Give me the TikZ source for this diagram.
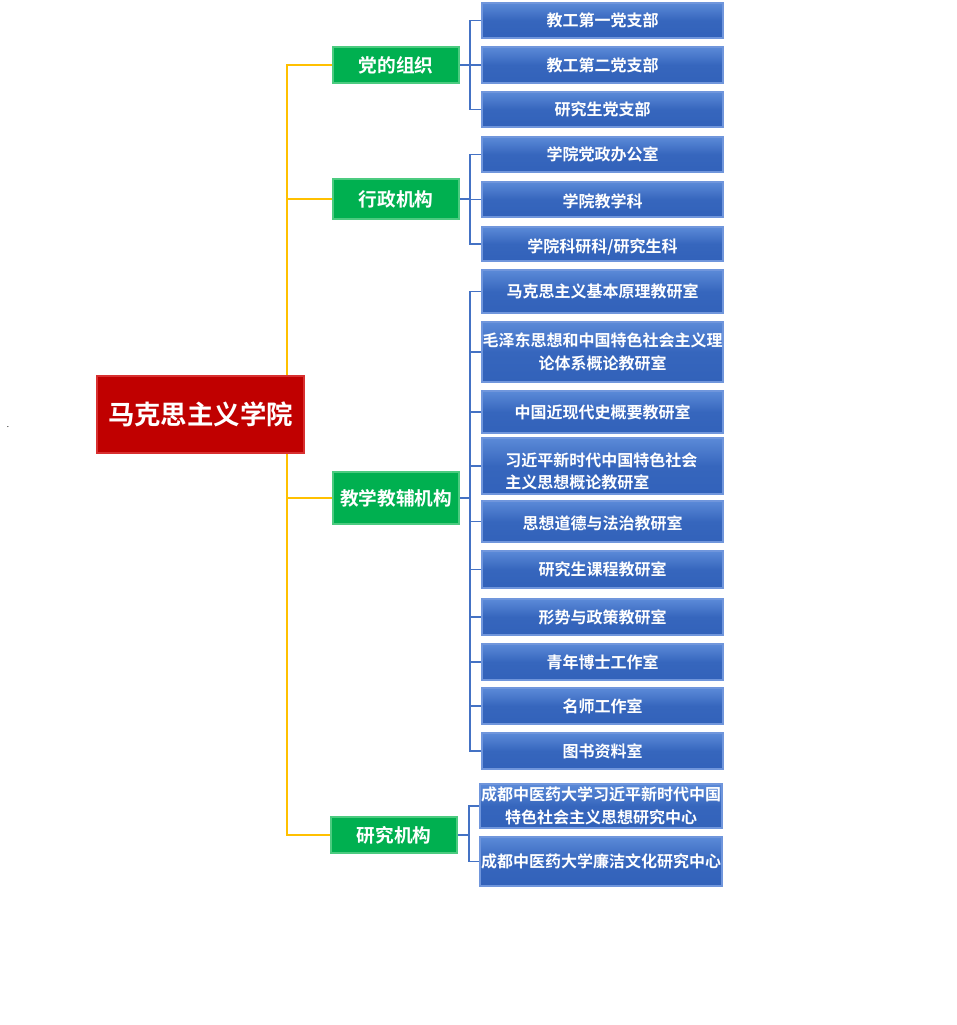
\documentclass[tikz,border=0pt]{standalone}
\usepackage{fontspec}
\setmainfont{Noto Sans CJK SC}[BoldFont=* Bold]
\usetikzlibrary{backgrounds,calc}
\definecolor{rootred}{HTML}{C00000}
\definecolor{rootedge}{HTML}{D83030}
\definecolor{grn}{HTML}{00B050}
\definecolor{grnedge}{HTML}{4CCB80}
\definecolor{bluetop}{HTML}{5B8AD8}
\definecolor{bluebot}{HTML}{3262BA}
\definecolor{blueedge}{HTML}{7096DC}
\definecolor{bline}{HTML}{4472C4}
\definecolor{oline}{HTML}{FFC000}
\tikzset{
  rootbox/.style={draw=rootedge, line width=1pt, fill=rootred, text=white, font=\bfseries\fontsize{19.8pt}{22pt}\selectfont, inner sep=0pt},
  grnbox/.style={draw=grnedge, line width=0.8pt, fill=grn, text=white, font=\bfseries\fontsize{14pt}{16pt}\selectfont, inner sep=0pt, minimum width=126*0.75pt},
  bluebox/.style={draw=blueedge, line width=0.8pt, top color=bluetop, bottom color=bluebot, middle color=bluebot!90!bluetop, text=white, font=\bfseries\fontsize{12pt}{17pt}\selectfont, inner sep=0pt, minimum width=241*0.75pt, align=center},
  bluetext/.style={text=white, font=\bfseries\fontsize{12pt}{17pt}\selectfont, inner sep=0pt, align=center},
  blink/.style={draw=bline, line width=1pt},
  olink/.style={draw=oline, line width=1pt}
}
\begin{document}
\begin{tikzpicture}[x=0.75pt,y=-0.75pt]
\useasboundingbox (0,0) rectangle (957,1025);
% root
\node[rootbox, minimum width=207*0.75pt, minimum height=77*0.75pt] (root) at (200.5,414.5) {马克思主义学院};
\node[font=\fontsize{6pt}{6pt}\selectfont, inner sep=0pt] (dot) at (8,427) {.};
% level 1
\node[grnbox, minimum height=36*0.75pt] (g1) at (396,65) {党的组织};
\node[grnbox, minimum height=40*0.75pt] (g2) at (396,199) {行政机构};
\node[grnbox, minimum height=52*0.75pt] (g3) at (396,498) {教学教辅机构};
\node[grnbox, minimum height=36*0.75pt] (g4) at (394,835) {研究机构};
% level 2
\node[bluebox, minimum height=35*0.75pt] (b1) at (602.5,20.5) {教工第一党支部};
\node[bluebox, minimum height=36*0.75pt] (b2) at (602.5,65) {教工第二党支部};
\node[bluebox, minimum height=35*0.75pt] (b3) at (602.5,109.5) {研究生党支部};
\node[bluebox, minimum height=35*0.75pt] (b4) at (602.5,154.5) {学院党政办公室};
\node[bluebox, minimum height=35*0.75pt] (b5) at (602.5,199.5) {};
\node[bluetext] (t5) at ($(b5.center)+(0,2)$) {学院教学科};
\node[bluebox, minimum height=34*0.75pt] (b6) at (602.5,244) {};
\node[bluetext] (t6) at ($(b6.center)+(0,3.5)$) {学院科研科/研究生科};
\node[bluebox, minimum height=43*0.75pt] (b7) at (602.5,291.5) {马克思主义基本原理教研室};
\node[bluebox, minimum height=60*0.75pt] (b8) at (602.5,352) {毛泽东思想和中国特色社会主义理\\论体系概论教研室};
\node[bluebox, minimum height=42*0.75pt] (b9) at (602.5,412) {中国近现代史概要教研室};
\node[bluebox, minimum height=56*0.75pt] (b10) at (602.5,466) {};
\node[bluetext, align=left, anchor=west] (t10) at (505,471.5) {习近平新时代中国特色社会\\主义思想概论教研室};
\node[bluebox, minimum height=41*0.75pt] (b11) at (602.5,521.5) {};
\node[bluetext] (t11) at ($(b11.center)+(0,2)$) {思想道德与法治教研室};
\node[bluebox, minimum height=37*0.75pt] (b12) at (602.5,569.5) {研究生课程教研室};
\node[bluebox, minimum height=36*0.75pt] (b13) at (602.5,617) {形势与政策教研室};
\node[bluebox, minimum height=36*0.75pt] (b14) at (602.5,662) {青年博士工作室};
\node[bluebox, minimum height=36*0.75pt] (b15) at (602.5,706) {名师工作室};
\node[bluebox, minimum height=36*0.75pt] (b16) at (602.5,751) {图书资料室};
\node[bluebox, minimum height=44*0.75pt, minimum width=242*0.75pt] (b17) at (601,806) {成都中医药大学习近平新时代中国\\特色社会主义思想研究中心};
\node[bluebox, minimum height=49*0.75pt, minimum width=242*0.75pt] (b18) at (601,861.5) {成都中医药大学廉洁文化研究中心};
% connectors
\coordinate (sp) at (287,0);
\coordinate (va) at (470,0);
\coordinate (vb) at (469,0);
\begin{scope}[on background layer]
  \draw[olink] (g1.west) -- (sp |- g1.west) -- (sp |- g4.west) -- (g4.west);
  \draw[olink] (sp |- g2.west) -- (g2.west);
  \draw[olink] (sp |- g3.west) -- (g3.west);
  \foreach \g/\kids in {g1/{b1,b2,b3}, g2/{b4,b5,b6}, g3/{b7,b8,b9,b10,b11,b12,b13,b14,b15,b16}} {
    \draw[blink] (\g.east) -- (va |- \g.east);
    \foreach \k in \kids {
      \draw[blink] (va |- \g.east) |- (\k.west);
    }
  }
  \draw[blink] (g4.east) -- (vb |- g4.east);
  \draw[blink] (vb |- g4.east) |- (b17.west);
  \draw[blink] (vb |- g4.east) |- (b18.west);
\end{scope}
\end{tikzpicture}
\end{document}
